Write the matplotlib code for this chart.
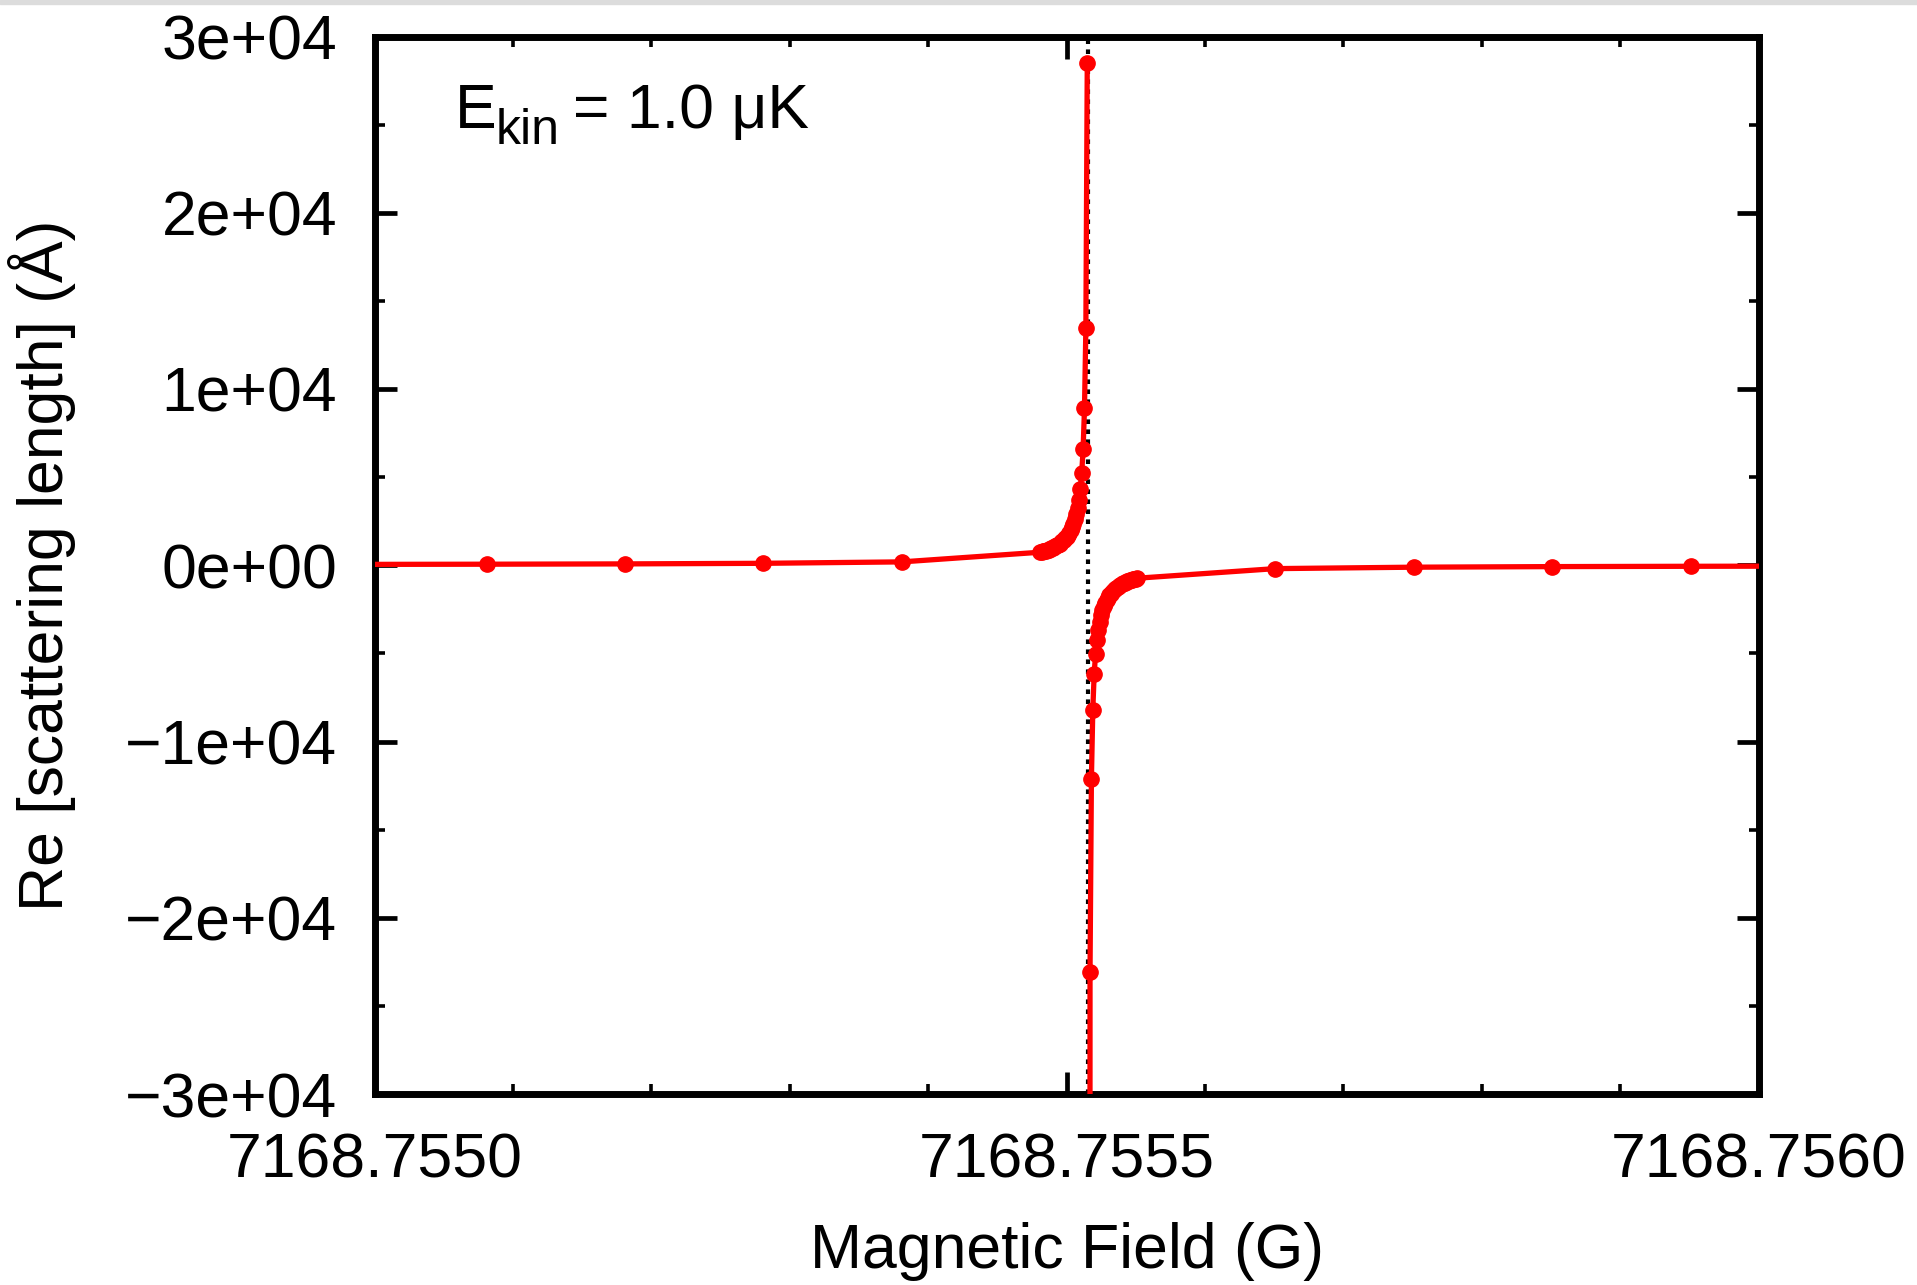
import matplotlib
matplotlib.use("Agg")
import numpy as np
import matplotlib.pyplot as plt
from matplotlib.ticker import FixedLocator, FixedFormatter, MultipleLocator
from matplotlib.patches import Rectangle

plt.rcParams['font.family'] = ['Liberation Sans', 'DejaVu Sans']

# field values are given as offsets (micro-Gauss) from a base field
base_field = 7168.755  # G

# branch below the resonance (positive scattering length)
upper_offset_uG = [-19, 81, 181, 281, 381,
                   481, 482, 483, 484, 485, 486, 487, 488, 489, 490,
                   491, 492, 493, 494, 495, 496, 497, 498, 499, 500,
                   501, 502, 503, 504, 505, 506, 507, 508, 509, 510,
                   511, 512, 513, 514, 515]
upper_re_a = [48, 59, 77, 110, 191,
              739, 760, 783, 808, 834, 862, 892, 924, 958, 995,
              1035, 1078, 1125, 1176, 1233, 1295, 1363, 1439, 1524, 1620,
              1728, 1852, 1995, 2163, 2360, 2598, 2889, 3253, 3723, 4351,
              5250, 6580, 8905, 13480, 28480]

# branch above the resonance (negative scattering length)
lower_offset_uG = [516, 517, 518, 519, 520, 521, 522, 523, 524, 525,
                   526, 527, 528, 529, 530, 531, 532, 533, 534, 535,
                   536, 537, 538, 539, 540, 541, 542, 543, 544, 545,
                   546, 547, 548, 549, 550, 551,
                   651, 751, 851, 951, 1051]
lower_re_a = [-370000, -23070, -12120, -8230, -6150, -5040, -4250, -3649, -3197, -2845,
              -2562, -2331, -2138, -1974, -1834, -1712, -1605, -1511, -1428, -1353,
              -1286, -1224, -1169, -1118, -1072, -1029, -990, -953, -919, -888,
              -858, -830, -804, -780, -757, -736,
              -191, -110, -77, -59, -48]

resonance_offset_uG = 515.3

x_ticks = [7168.7550, 7168.7555, 7168.7560]
x_tick_labels = ['7168.7550', '7168.7555', '7168.7560']
y_ticks = [-30000, -20000, -10000, 0, 10000, 20000, 30000]
y_tick_labels = ['\u22123e+04', '\u22122e+04', '\u22121e+04', '0e+00', '1e+04', '2e+04', '3e+04']

FS = 45
W, H = 1917, 1285
fig = plt.figure(figsize=(W / 100, H / 100), dpi=100)
fig.patches.append(Rectangle((0, 1 - 4 / H), 1, 4 / H, transform=fig.transFigure,
                             color='#dcdcdc', zorder=0))
ax = fig.add_axes([374.5 / W, 1 - 1094 / H, 1384 / W, 1057.5 / H])

red = '#ff0000'
xu = base_field + np.array(upper_offset_uG) * 1e-6
xl = base_field + np.array(lower_offset_uG) * 1e-6
ax.axvline(base_field + resonance_offset_uG * 1e-6, color='black', lw=3.0,
           linestyle=(0, (1.1, 1.3)), zorder=2)
ax.plot(xu, upper_re_a, color=red, lw=3.8, marker='o', ms=11, zorder=3)
ax.plot(xl, lower_re_a, color=red, lw=3.8, marker='o', ms=11, zorder=3)

ax.set_xlim(7168.7550, 7168.7560)
ax.set_ylim(-30000, 30000)

ax.xaxis.set_major_locator(FixedLocator(x_ticks))
ax.xaxis.set_major_formatter(FixedFormatter(x_tick_labels))
ax.xaxis.set_minor_locator(MultipleLocator(0.0001))
ax.yaxis.set_major_locator(FixedLocator(y_ticks))
ax.yaxis.set_major_formatter(FixedFormatter(y_tick_labels))
ax.yaxis.set_minor_locator(MultipleLocator(5000))

ax.tick_params(which='both', direction='in', top=True, right=True, labelsize=FS)
ax.tick_params(which='major', length=16, width=3.4)
ax.tick_params(which='minor', length=7.5, width=2.6)
ax.tick_params(axis='x', which='major', pad=27)
ax.tick_params(axis='y', which='major', pad=27)
for s in ax.spines.values():
    s.set_linewidth(5)

ax.set_xlabel('Magnetic Field (G)', fontsize=FS)
ax.set_ylabel('Re [scattering length] (\u00c5)', fontsize=FS)
ax.xaxis.set_label_coords(0.5, -0.121)
ax.yaxis.set_label_coords(-0.216, 0.5)

# E_kin annotation, subscript done by hand (gnuplot style)
ax.text(0.058, 0.9135, 'E', transform=ax.transAxes, fontsize=FS, ha='left', va='baseline')
ax.text(0.0875, 0.8985, 'kin', transform=ax.transAxes, fontsize=36, ha='left', va='baseline')
ax.text(0.1434, 0.9135, '= 1.0 \u03bcK', transform=ax.transAxes, fontsize=FS,
        ha='left', va='baseline')

fig.savefig('out.png', dpi=100)
